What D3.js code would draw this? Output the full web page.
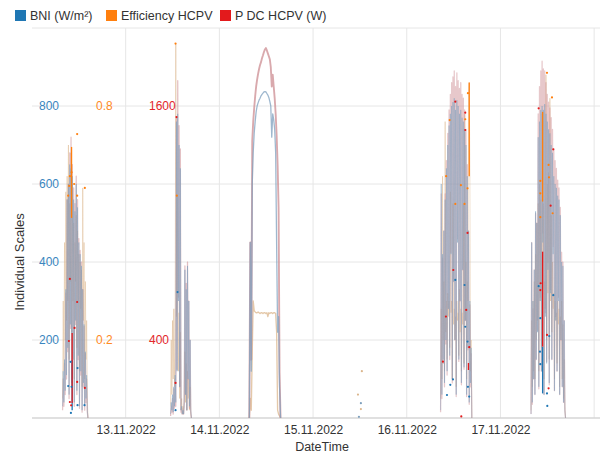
<!DOCTYPE html>
<html><head><meta charset="utf-8">
<script src="https://cdn.jsdelivr.net/npm/d3@7"></script>
<style>
body{margin:0;background:#fff;}
text{font-family:"Liberation Sans",Arial,sans-serif;}
</style>
</head><body>
<svg id="c" width="602" height="454"></svg>
<script>
// ---------- DATA ----------
const seriesNames = ["BNI (W/m²)", "Efficiency HCPV", "P DC HCPV (W)"];
const dateTicks = ["2022-11-13T00:00","2022-11-14T00:00","2022-11-15T00:00","2022-11-16T00:00","2022-11-17T00:00","2022-11-18T00:00"];
const bniTicks = [200, 400, 600, 800];
const bniGrid = [200, 400, 600, 800, 1000];
const effTicks = [0.2, 0.8];
const pdcTicks = [400, 1600];

// 12.11 — 10 min samples
const day12Start = "2022-11-12T07:50", day12Step = 10;
const day12Bni = [30,120,40,150,70,330,110,560,180,600,60,650,240,640,90,620,150,560,40,530,250,600,70,540,160,450,30,420,120,390,20,330,90,240,30,170,50,110,20,0];
const day12Eff = [0.05,0.30,0.12,0.45,0.20,0.58,0.25,0.62,0.30,0.70,0.15,0.55,0.35,0.68,0.22,0.60,0.30,0.50,0.10,0.45,0.35,0.52,0.18,0.48,0.30,0.42,0.12,0.40,0.28,0.38,0.08,0.59,0.25,0.45,0.10,0.35,0.15,0.25,0.05,0];
const day12Pdc = [40,200,60,280,120,640,200,1120,340,1200,100,1360,460,1440,160,1300,300,1180,60,1100,480,1240,120,1120,300,920,50,860,220,800,30,660,160,470,40,330,80,200,30,0];

// 13.11
const day13Start = "2022-11-13T11:30", day13Step = 10;
const day13Bni = [10,40,20,60,15,80,30,110,40,760,120,780,300,700,80,640,20,30,10,20,10,40,380,60,330,20,390,100,300,30,200,20,0];
const day13Eff = [0.03,0.20,0.06,0.25,0.10,0.28,0.08,0.22,0.96,0.26,0.57,0.28,0.12,0.27,0.05,0.22,0.02,0.05,0.01,0.03,0.01,0.06,0.17,0.04,0.14,0.02,0.12,0.05,0.10,0.02,0.08,0.01,0];
const day13Pdc = [10,60,30,100,20,150,50,200,60,1540,250,1730,620,1500,160,1380,30,50,20,30,20,80,780,120,690,40,800,200,600,50,400,30,0];

// 14.11 (clear day) — 15 min samples
const day14Start = "2022-11-14T07:40", day14Step = 15;
const day14Bni = [0,450,120,600,680,730,760,785,800,808,815,820,826,830,833,836,837,836,832,828,822,812,800,720,780,765,740,680,440,220,260,80,0];
const day14Eff = [0,0.05,0.02,0.17,0.30,0.275,0.272,0.27,0.27,0.272,0.27,0.268,0.27,0.27,0.268,0.27,0.27,0.268,0.27,0.26,0.27,0.268,0.27,0.27,0.268,0.27,0.27,0.268,0.22,0.02,0.01,0.005,0];
const day14Pdc = [0,900,300,1420,1520,1590,1650,1700,1735,1765,1790,1810,1825,1845,1860,1877,1890,1897,1885,1870,1855,1840,1800,1700,1760,1700,1640,1560,1450,1300,1080,230,0];

// 15.11 — isolated samples
const day15Bni = [["2022-11-15T11:45", 3], ["2022-11-15T12:15", 38]];
const day15Eff = [["2022-11-15T11:30", 0.06], ["2022-11-15T12:15", 0.023], ["2022-11-15T12:30", 0.12]];

// 16.11
const day16Start = "2022-11-16T08:40", day16Step = 10;
const day16Bni = [20,600,60,420,150,480,90,560,200,640,120,700,280,750,160,780,420,800,100,810,350,820,200,790,60,815,450,800,150,780,300,790,90,770,380,760,130,740,250,700,60,620,180,480,40,300,90,180,0];
const day16Eff = [0.05,0.28,0.10,0.62,0.20,0.35,0.12,0.76,0.22,0.30,0.15,0.32,0.26,0.30,0.18,0.58,0.27,0.30,0.10,0.55,0.24,0.28,0.20,0.26,0.08,0.30,0.25,0.27,0.16,0.33,0.22,0.28,0.12,0.27,0.24,0.55,0.14,0.78,0.25,0.40,0.10,0.35,0.30,0.83,0.86,0.62,0.12,0.20,0];
const day16Pdc = [30,1150,100,820,280,960,160,1150,380,1320,220,1460,560,1580,300,1660,850,1720,180,1750,700,1780,400,1700,110,1770,920,1730,290,1690,600,1720,170,1660,760,1640,250,1580,500,1480,110,1300,350,960,70,580,160,330,0];

// 17.11
const day17Start = "2022-11-17T07:50", day17Step = 10;
const day17Bni = [10,450,40,300,100,380,60,530,150,500,220,720,80,760,300,790,120,800,450,790,60,805,260,780,140,760,380,740,90,730,320,700,150,680,420,620,70,600,250,590,120,570,300,560,60,520,200,400,80,390,40,250,20,0];
const day17Eff = [0.02,0.25,0.08,0.30,0.12,0.35,0.10,0.42,0.20,0.50,0.25,0.55,0.12,0.60,0.30,0.56,0.18,0.78,0.40,0.55,0.10,0.35,0.28,0.88,0.20,0.60,0.32,0.63,0.15,0.82,0.30,0.52,0.22,0.40,0.28,0.32,0.10,0.30,0.25,0.27,0.14,0.30,0.24,0.28,0.08,0.26,0.20,0.30,0.10,0.24,0.05,0.15,0.03,0];
const day17Pdc = [20,900,70,560,200,760,120,1050,300,1000,450,1560,150,1700,620,1780,240,1830,950,1790,120,1780,540,1720,290,1660,800,1620,170,1590,660,1540,300,1480,880,1380,140,1320,520,1280,240,1220,620,1180,120,1080,400,850,160,800,80,500,40,0];

// highlighted samples (full colour)
const bniMarks = [["2022-11-12T09:16",82],["2022-11-12T09:53",144],["2022-11-12T10:08",80],["2022-11-12T11:40",128],["2022-11-12T11:40",33],["2022-11-12T13:27",33],["2022-11-12T09:58",13],
  ["2022-11-13T13:17",323],["2022-11-13T12:46",20],
  ["2022-11-16T12:26",354],["2022-11-16T14:48",341],["2022-11-16T14:59",234],["2022-11-16T15:34",196],["2022-11-16T11:50",99],["2022-11-16T11:09",85],["2022-11-16T10:18",59],["2022-11-16T15:40",80],["2022-11-16T16:00",55],
  ["2022-11-17T09:47",338],["2022-11-17T10:13",256],["2022-11-17T10:08",170],["2022-11-17T10:13",138],["2022-11-17T13:32",315],["2022-11-17T12:30",210],["2022-11-17T11:55",63],["2022-11-17T12:00",31]];
const effMarks = [["2022-11-12T11:34",0.728],["2022-11-12T10:08",0.63],["2022-11-12T09:42",0.62],["2022-11-12T09:31",0.595],["2022-11-12T09:16",0.57],["2022-11-12T10:48",0.60],["2022-11-12T11:34",0.57],["2022-11-12T13:32",0.59],
  ["2022-11-13T12:46",0.96],["2022-11-13T13:06",0.57],
  ["2022-11-16T15:40",0.833],["2022-11-16T14:59",0.766],["2022-11-16T10:59",0.764],["2022-11-16T10:05",0.62],["2022-11-16T13:52",0.597],["2022-11-16T12:26",0.549],["2022-11-16T14:48",0.549],["2022-11-16T15:34",0.589],
  ["2022-11-17T11:55",0.885],["2022-11-17T13:12",0.822],["2022-11-17T12:20",0.649],["2022-11-17T12:26",0.617],["2022-11-17T13:22",0.525],["2022-11-17T10:13",0.608],["2022-11-17T10:13",0.576],["2022-11-17T10:13",0.515]];
const pdcMarks = [["2022-11-12T09:42",713],["2022-11-12T11:34",595],["2022-11-12T10:54",462],["2022-11-12T09:27",395],["2022-11-12T11:34",185],["2022-11-12T13:32",154],["2022-11-12T09:42",82],["2022-11-12T10:02",65],
  ["2022-11-13T13:01",1543],["2022-11-13T12:46",180],
  ["2022-11-16T12:26",1622],["2022-11-16T14:59",1566],["2022-11-16T14:59",1477],["2022-11-16T15:34",949],["2022-11-16T11:55",759],["2022-11-16T15:14",554],["2022-11-16T10:02",520],["2022-11-16T16:00",363],["2022-11-16T09:16",289],["2022-11-16T13:58",8],
  ["2022-11-17T09:47",1588],["2022-11-17T13:32",1378],["2022-11-17T12:51",1089],["2022-11-17T10:18",691],["2022-11-17T10:13",656],["2022-11-17T11:55",426],["2022-11-17T12:20",152]];
const bniSegs = [["2022-11-12T10:17",149,20],["2022-11-17T10:48",183,63]];
const effSegs = [["2022-11-12T10:08",0.695,0.513],["2022-11-16T16:00",0.86,0.62],["2022-11-17T10:48",0.785,0.555]];
const pdcSegs = [["2022-11-12T10:17",436,77],["2022-11-16T15:48",282,246],["2022-11-17T10:48",853,366]];

// ---------- CHART ----------
const colBni = "#1f77b4", colEff = "#ff7f0e", colPdc = "#e31a1c";
const fadeBni = "#7d9fbd", fadeEff = "#dbb68c", fadePdc = "#cc8c92";

const svg = d3.select("#c");
const parse = s => new Date(s);
const x = d3.scaleTime().domain([new Date(2022,10,12,0,0), new Date(2022,10,18,1,30)]).range([32, 600]);
const yB = d3.scaleLinear().domain([0,1000]).range([418,28]);
const yE = d3.scaleLinear().domain([0,1]).range([418,28]);
const yP = d3.scaleLinear().domain([0,2000]).range([418,28]);

// grid
const grid = svg.append("g");
grid.selectAll("line.h").data(bniGrid).join("line")
  .attr("x1", 32).attr("x2", 600).attr("y1", d=>yB(d)).attr("y2", d=>yB(d))
  .attr("stroke", "#e6e6e6").attr("stroke-width", 1);
grid.selectAll("line.v").data(dateTicks).join("line")
  .attr("x1", d=>x(parse(d))).attr("x2", d=>x(parse(d))).attr("y1", 28).attr("y2", 418)
  .attr("stroke", "#e6e6e6").attr("stroke-width", 1);
grid.append("line").attr("x1",32).attr("x2",600).attr("y1",yB(0)).attr("y2",yB(0))
  .attr("stroke","#d6d6d6").attr("stroke-width",1.5);

// series
const days = [
  {start: day12Start, step: day12Step, bni: day12Bni, eff: day12Eff, pdc: day12Pdc, w: 1, o: 0.5},
  {start: day13Start, step: day13Step, bni: day13Bni, eff: day13Eff, pdc: day13Pdc, w: 1, o: 0.55},
  {start: day14Start, step: day14Step, bni: day14Bni, eff: day14Eff, pdc: day14Pdc, w: 1.5, o: 0.75},
  {start: day16Start, step: day16Step, bni: day16Bni, eff: day16Eff, pdc: day16Pdc, w: 1, o: 0.48},
  {start: day17Start, step: day17Step, bni: day17Bni, eff: day17Eff, pdc: day17Pdc, w: 1, o: 0.48}
];
const toPts = (d, key) => d[key].map((v,i) => ({t: new Date(parse(d.start).getTime() + i*d.step*60000), v}));
const plot = svg.append("g");
const layers = [
  {key:"eff", y:yE, c:fadeEff, wf:0.9},
  {key:"pdc", y:yP, c:fadePdc, wf:1.25},
  {key:"bni", y:yB, c:fadeBni, wf:0.85}
];
layers.forEach(L => {
  const line = d3.line().x(p=>x(p.t)).y(p=>L.y(p.v));
  plot.selectAll(null).data(days).join("path")
    .attr("d", d=>line(toPts(d, L.key)))
    .attr("fill","none").attr("stroke", L.c).attr("stroke-opacity", d=>d.o)
    .attr("stroke-width", d=>Math.max(0.9, d.w*L.wf)).attr("stroke-linejoin","round");
});
// isolated samples of 15.11
plot.selectAll(null).data(day15Eff).join("circle")
  .attr("cx", d=>x(parse(d[0]))).attr("cy", d=>yE(d[1])).attr("r",1.1).attr("fill", fadeEff);
plot.selectAll(null).data(day15Bni).join("circle")
  .attr("cx", d=>x(parse(d[0]))).attr("cy", d=>yB(d[1])).attr("r",1.1).attr("fill", fadeBni);

// highlighted segments and points
const segs = [[bniSegs,yB,colBni],[effSegs,yE,colEff],[pdcSegs,yP,colPdc]];
segs.forEach(([arr,y,c]) => {
  plot.selectAll(null).data(arr).join("line")
    .attr("x1", d=>x(parse(d[0]))).attr("x2", d=>x(parse(d[0])))
    .attr("y1", d=>y(d[1])).attr("y2", d=>y(d[2]))
    .attr("stroke", c).attr("stroke-width", 1.3);
});
const marks = [[bniMarks,yB,colBni],[effMarks,yE,colEff],[pdcMarks,yP,colPdc]];
marks.forEach(([arr,y,c]) => {
  plot.selectAll(null).data(arr).join("circle")
    .attr("cx", d=>x(parse(d[0]))).attr("cy", d=>y(d[1])).attr("r", 1.1).attr("fill", c);
});

// y axes (inside plot)
function styleAxis(g, color){
  g.select(".domain").remove();
  g.selectAll("line").remove();
  g.selectAll("text").attr("fill", color).attr("font-size", 12).attr("font-family", "Liberation Sans, Arial, sans-serif");
}
svg.append("g").attr("transform","translate(39,0)")
  .call(d3.axisRight(yB).tickValues(bniTicks).tickSize(0).tickPadding(0).tickFormat(d3.format("d")))
  .call(g=>styleAxis(g, "#3a86c0"));
svg.append("g").attr("transform","translate(96,0)")
  .call(d3.axisRight(yE).tickValues(effTicks).tickSize(0).tickPadding(0).tickFormat(d3.format(".1f")))
  .call(g=>styleAxis(g, "#ff8a1f"));
svg.append("g").attr("transform","translate(149,0)")
  .call(d3.axisRight(yP).tickValues(pdcTicks).tickSize(0).tickPadding(0).tickFormat(d3.format("d")))
  .call(g=>styleAxis(g, "#e3262b"));

// x axis
svg.append("g").attr("transform","translate(0,418)")
  .call(d3.axisBottom(x).tickValues(dateTicks.slice(0,5).map(parse)).tickSize(0).tickPadding(7).tickFormat(d3.timeFormat("%d.%m.%Y")))
  .call(g=>styleAxis(g, "#333"));

// titles
svg.append("text").attr("transform","translate(24,262) rotate(-90)").attr("text-anchor","middle")
  .attr("font-size",13).attr("fill","#333").text("Individual Scales");
svg.append("text").attr("x",322).attr("y",451).attr("text-anchor","middle")
  .attr("font-size",12.5).attr("fill","#333").text("DateTime");

// legend
const legX = [15, 106, 220];
const legCols = [colBni, colEff, colPdc];
const leg = svg.append("g");
seriesNames.forEach((n,i) => {
  leg.append("rect").attr("x", legX[i]).attr("y", 10).attr("width", 11).attr("height", 11).attr("fill", legCols[i]);
  leg.append("text").attr("x", legX[i]+15).attr("y", 20).attr("font-size", 12.5).attr("fill", "#333").text(n);
});
</script>
</body></html>
